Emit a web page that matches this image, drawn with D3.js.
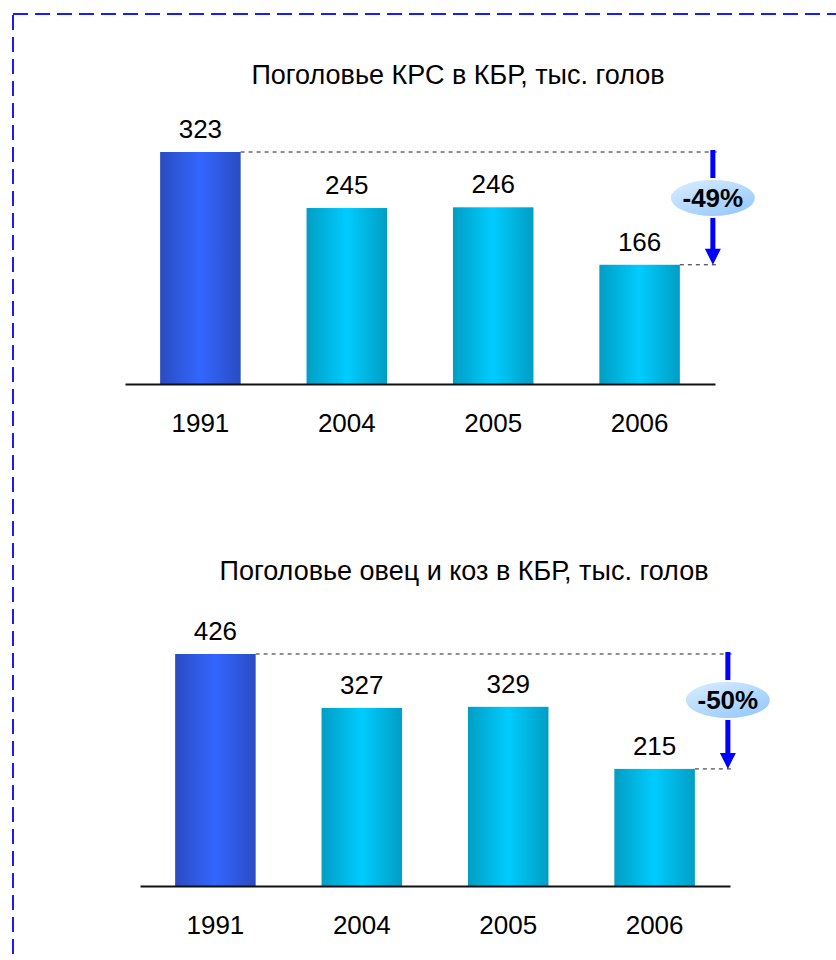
<!DOCTYPE html>
<html>
<head>
<meta charset="utf-8">
<script src="https://cdn.jsdelivr.net/npm/d3@7"></script>
<style>
  body { margin: 0; background: #fff; }
  svg text { font-family: "Liberation Sans", Arial, sans-serif; fill: #000; }
</style>
</head>
<body>
<svg width="836" height="960"></svg>
<script>
// data
var years = ["1991", "2004", "2005", "2006"];
var cattle = [323, 245, 246, 166];
var sheep = [426, 327, 329, 215];
var titles = ["Поголовье КРС в КБР, тыс. голов", "Поголовье овец и коз в КБР, тыс. голов"];

var svg = d3.select("svg");

// dashed frame (runs off the right/bottom of the page)
svg.append("rect")
    .attr("x", 13).attr("y", 14)
    .attr("width", 900).attr("height", 1000)
    .attr("fill", "none")
    .attr("stroke", "#1a1aff")
    .attr("stroke-width", 2)
    .attr("stroke-dasharray", "15,7");

var defs = svg.append("defs");
function grad(id, edge, mid) {
  var g = defs.append("linearGradient").attr("id", id)
      .attr("x1", "0%").attr("x2", "100%").attr("y1", "0%").attr("y2", "0%");
  g.append("stop").attr("offset", "0%").attr("stop-color", edge);
  g.append("stop").attr("offset", "50%").attr("stop-color", mid);
  g.append("stop").attr("offset", "100%").attr("stop-color", edge);
}
grad("gBlue", "#2a4cc2", "#3366ff");
grad("gCyan", "#009ec4", "#00ccff");
var eg = defs.append("linearGradient").attr("id", "gOval")
    .attr("x1", "0%").attr("y1", "0%").attr("x2", "80%").attr("y2", "100%");
eg.append("stop").attr("offset", "0%").attr("stop-color", "#dcefff");
eg.append("stop").attr("offset", "100%").attr("stop-color", "#95c8ff");

function drawChart(values, title, x0, base, titleX, titleY) {
  var g = svg.append("g");

  var x = d3.scaleBand()
      .domain(years)
      .range([x0, x0 + 590])
      .paddingInner(0.45)
      .paddingOuter(0.24);

  var y = d3.scaleLinear()
      .domain([0, d3.max(values)])
      .range([base, base - 232]);

  var data = years.map(function(d, i) { return {year: d, value: values[i]}; });

  g.append("text")
      .attr("x", titleX).attr("y", titleY)
      .attr("text-anchor", "middle")
      .attr("font-size", 27)
      .text(title);

  g.selectAll("rect.bar")
    .data(data)
    .enter().append("rect")
      .attr("class", "bar")
      .attr("x", function(d) { return x(d.year); })
      .attr("y", function(d) { return y(d.value); })
      .attr("width", x.bandwidth())
      .attr("height", function(d) { return base - y(d.value); })
      .attr("fill", function(d, i) { return i == 0 ? "url(#gBlue)" : "url(#gCyan)"; });

  g.selectAll("text.val")
    .data(data)
    .enter().append("text")
      .attr("class", "val")
      .attr("x", function(d) { return x(d.year) + x.bandwidth() / 2; })
      .attr("y", function(d) { return y(d.value) - 14; })
      .attr("text-anchor", "middle")
      .attr("font-size", 26)
      .text(function(d) { return d.value; });

  var axis = g.append("g")
      .attr("transform", "translate(0," + base + ")")
      .call(d3.axisBottom(x).tickSize(0).tickSizeOuter(0).tickPadding(30));
  axis.select(".domain").attr("stroke", "#111").attr("stroke-width", 2);
  axis.selectAll(".tick text")
      .attr("font-size", 26)
      .style("font-family", "'Liberation Sans', Arial, sans-serif");

  // change marker
  var first = data[0], last = data[data.length - 1];
  var ax = x(last.year) + x.bandwidth() + 33;
  var yTop = y(first.value), yBot = y(last.value);

  g.append("line")
      .attr("x1", x(first.year) + x.bandwidth()).attr("x2", ax + 7)
      .attr("y1", yTop).attr("y2", yTop)
      .attr("stroke", "#222").attr("stroke-dasharray", "4,4");
  g.append("line")
      .attr("x1", x(last.year) + x.bandwidth()).attr("x2", ax + 7)
      .attr("y1", yBot).attr("y2", yBot)
      .attr("stroke", "#222").attr("stroke-dasharray", "4,4");

  g.append("line")
      .attr("x1", ax).attr("x2", ax)
      .attr("y1", yTop - 2).attr("y2", yBot - 14)
      .attr("stroke", "#0000ff").attr("stroke-width", 5);
  g.append("path")
      .attr("d", "M" + (ax - 8) + "," + (yBot - 16) + "L" + (ax + 8) + "," + (yBot - 16) + "L" + ax + "," + yBot + "Z")
      .attr("fill", "#0000ff");

  var cy = yTop + 46;
  g.append("ellipse")
      .attr("cx", ax).attr("cy", cy)
      .attr("rx", 43).attr("ry", 19)
      .attr("fill", "url(#gOval)")
      .attr("stroke", "#fff").attr("stroke-width", 2);

  var pct = Math.round((last.value - first.value) / first.value * 100);
  g.append("text")
      .attr("x", ax).attr("y", cy + 9)
      .attr("text-anchor", "middle")
      .attr("font-size", 26)
      .attr("font-weight", "bold")
      .text(pct + "%");
}

drawChart(cattle, titles[0], 125, 384, 458, 84);
drawChart(sheep, titles[1], 140, 886, 464, 580);
</script>
</body>
</html>
